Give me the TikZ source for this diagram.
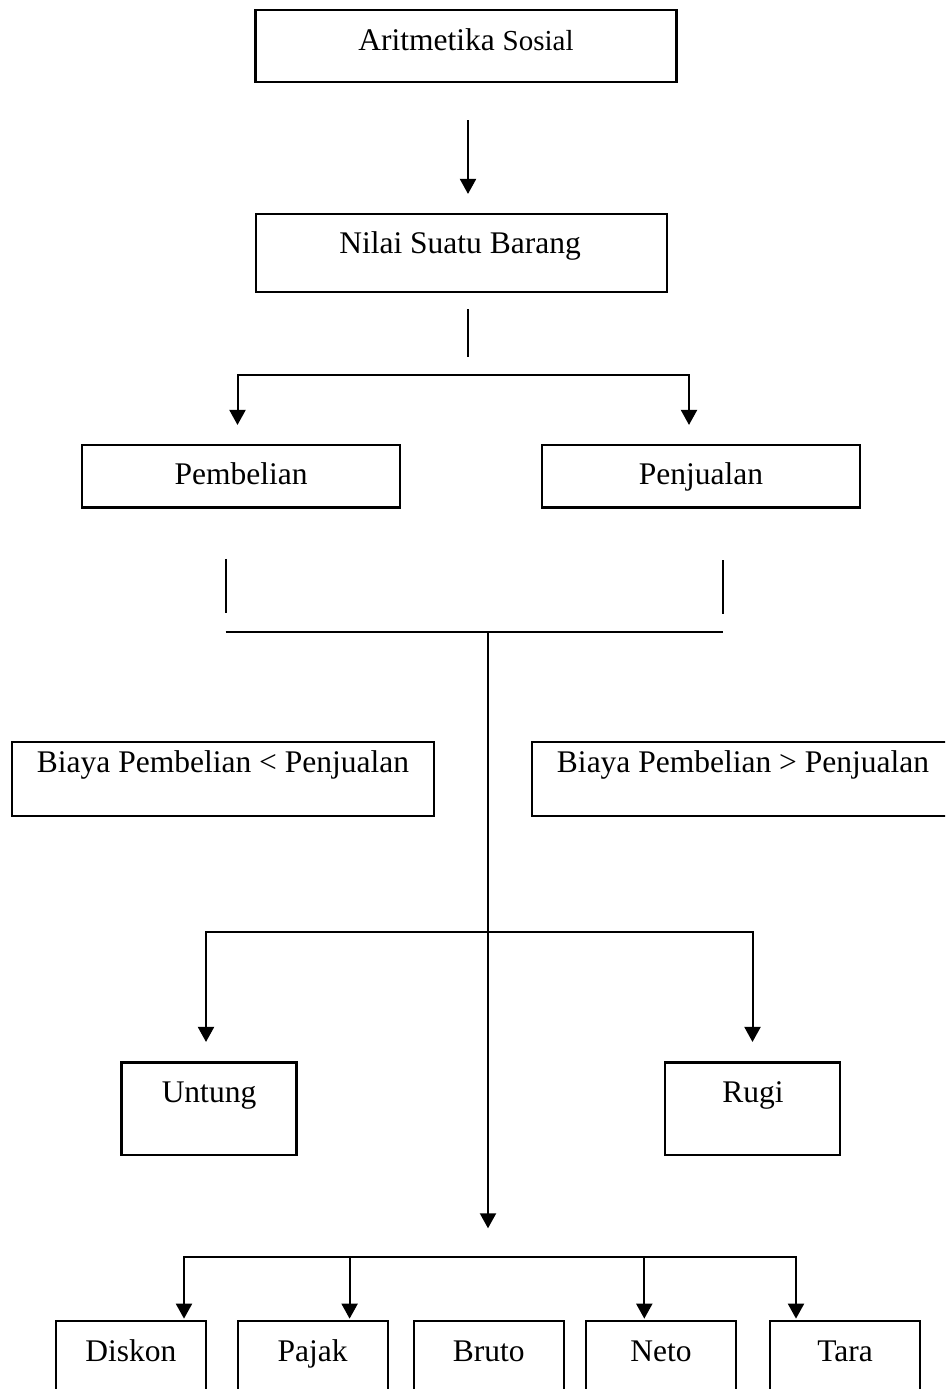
\documentclass[tikz,border=0pt]{standalone}
\usepackage{fontspec}
\setmainfont{Liberation Serif}
\usetikzlibrary{arrows.meta}
\begin{document}
\begin{tikzpicture}[x=1pt,y=-1pt,
  box/.style={draw, line width=2.1pt, rectangle, inner sep=0pt},
  lbl/.style={anchor=base, inner sep=0pt, font=\fontsize{31.5}{38}\selectfont},
  conn/.style={line width=2pt},
  arr/.style={conn, -{Triangle[length=15pt,width=16pt]}},
  biarr/.style={conn, {Triangle[length=15pt,width=16pt]}-{Triangle[length=15pt,width=16pt]}}]
\useasboundingbox (0,0) rectangle (945,1389);
\fill[white] (0,0) rectangle (945,1389);
\clip (0,0) rectangle (945,1389);

% boxes
\node[box, minimum width=421pt, minimum height=72pt] (arit) at (466,46) {};
\node[lbl] (aritT) at (466,50.7) {Aritmetika {\fontsize{29}{34}\selectfont Sosial}};
\node[box, minimum width=410.7pt, minimum height=78pt] (nilai) at (461.3,253) {};
\node[lbl] (nilaiT) at (460,253) {Nilai Suatu Barang};
\node[box, minimum width=318pt, minimum height=62.5pt] (pemb) at (241,476.25) {};
\node[lbl] (pembT) at (241,484.3) {Pembelian};
\node[box, minimum width=318pt, minimum height=62.5pt] (penj) at (701,476.25) {};
\node[lbl] (penjT) at (701,484.3) {Penjualan};
\node[box, minimum width=422pt, minimum height=74pt] (bl) at (223,779) {};
\node[lbl] (blT) at (223,772) {Biaya Pembelian < Penjualan};
\node[box, minimum width=430pt, minimum height=74pt] (br) at (747,779) {};
\node[lbl] (brT) at (743,772) {Biaya Pembelian > Penjualan};
\node[box, minimum width=175pt, minimum height=92.5pt] (untung) at (209,1108.75) {};
\node[lbl] (untungT) at (209,1102) {Untung};
\node[box, minimum width=175pt, minimum height=92.5pt] (rugi) at (752.5,1108.75) {};
\node[lbl] (rugiT) at (753,1102) {Rugi};
\node[box, minimum width=150pt, minimum height=100pt] (diskon) at (131,1370.7) {};
\node[lbl] (diskonT) at (131,1361) {Diskon};
\node[box, minimum width=150pt, minimum height=100pt] (pajak) at (312.7,1370.7) {};
\node[lbl] (pajakT) at (312.7,1361) {Pajak};
\node[box, minimum width=150pt, minimum height=100pt] (bruto) at (488.7,1370.7) {};
\node[lbl] (brutoT) at (488.7,1361) {Bruto};
\node[box, minimum width=150pt, minimum height=100pt] (neto) at (661,1370.7) {};
\node[lbl] (netoT) at (661,1361) {Neto};
\node[box, minimum width=150pt, minimum height=100pt] (tara) at (845,1370.7) {};
\node[lbl] (taraT) at (845,1361) {Tara};

% coordinates
\coordinate (cA) at (468,0);
\coordinate (j1) at (468,357);
\coordinate (bL) at (237.5,375);
\coordinate (bR) at (689,375);
\coordinate (m1) at (225.5,612.7);
\coordinate (m2) at (722.7,614);
\coordinate (k1) at (225.5,632.3);
\coordinate (k2) at (722.7,632.3);
\coordinate (kc) at (488,632.3);
\coordinate (cc) at (488,1228.3);
\coordinate (uL) at (206,932.3);
\coordinate (uR) at (752.5,932.3);
\coordinate (dL) at (184,1257);
\coordinate (dR) at (796,1257);
\coordinate (dP) at (349.6,1257);
\coordinate (dN) at (644.3,1257);

% connectors
\draw[arr, shorten <=37pt, shorten >=19pt] (arit.south -| cA) -- (nilai.north -| cA);
\draw[conn, shorten <=16pt] (nilai.south -| cA) -- (j1);
\draw[biarr, shorten <=19pt, shorten >=19pt] (pemb.north -| bL) -- (bL) -- (bR) -- (penj.north -| bR);
\draw[conn, shorten <=50.2pt] (pemb.south -| m1) -- (m1);
\draw[conn, shorten <=51.5pt] (penj.south -| m2) -- (m2);
\draw[conn] (k1) -- (k2);
\draw[arr] (kc) -- (cc);
\draw[biarr, shorten <=19.5pt, shorten >=19.5pt] (untung.north -| uL) -- (uL) -- (uR) -- (rugi.north -| uR);
\draw[biarr, shorten <=1pt, shorten >=1pt] (diskon.north -| dL) -- (dL) -- (dR) -- (tara.north -| dR);
\draw[arr, shorten >=1pt] (dP) -- (pajak.north -| dP);
\draw[arr, shorten >=1pt] (dN) -- (neto.north -| dN);
\end{tikzpicture}
\end{document}
